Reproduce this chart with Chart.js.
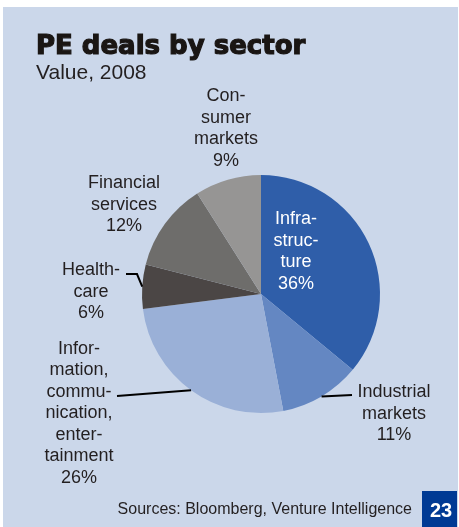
<!DOCTYPE html>
<html lang="en">
<head>
    <meta charset="UTF-8">
    <title>PE deals by sector</title>
    <script src="https://cdn.jsdelivr.net/npm/chart.js"></script>
    <style>
        html, body { margin: 0; padding: 0; background: #ffffff; }
        .panel {
            position: absolute; left: 3px; top: 7px; width: 455px; height: 520px;
            background: #cbd7ea;
        }
        #dealsChart { position: absolute; left: 0; top: 0; }
    </style>
</head>
<body>
    <div class="panel"></div>
    <canvas id="dealsChart" width="459" height="527"></canvas>

    <script>
        // Sector shares of PE deal value, 2008 (%)
        const sectors = ['Infrastructure', 'Industrial markets', 'Information, communication, entertainment',
                         'Healthcare', 'Financial services', 'Consumer markets'];
        const shares = [36, 11, 26, 6, 12, 9];
        // hyphenated label lines as printed
        const labelLines = [
            ['Infra-', 'struc-', 'ture'],
            ['Industrial', 'markets'],
            ['Infor-', 'mation,', 'commu-', 'nication,', 'enter-', 'tainment'],
            ['Health-', 'care'],
            ['Financial', 'services'],
            ['Con-', 'sumer', 'markets']
        ];
        const sliceColors = ['#2f5ea9', '#6487c2', '#9ab0d7', '#4b4645', '#6e6d6b', '#969594'];

        const TEXT = '#231f20';
        const LABEL_FONT = '18px "Liberation Sans", Arial, sans-serif';
        const LINE_H = 21.5;

        // where each label block sits, plus the leader line path from the slice edge
        const labelPlacement = [
            { x: 296, y: 224, color: '#ffffff' },
            { x: 394, y: 397, leader: [[352, 395]] },
            { x: 79, y: 353.5, leader: [[117, 396]] },
            { x: 91, y: 275, leader: [[137, 274], [126, 274]] },
            { x: 124, y: 188 },
            { x: 226, y: 101 }
        ];

        const sliceLabels = {
            id: 'sliceLabels',
            afterDatasetsDraw(chart) {
                const ctx = chart.ctx;
                const arcs = chart.getDatasetMeta(0).data;
                ctx.save();
                arcs.forEach((arc, i) => {
                    const p = labelPlacement[i];
                    if (p.leader) {
                        const mid = (arc.startAngle + arc.endAngle) / 2;
                        ctx.beginPath();
                        ctx.moveTo(arc.x + Math.cos(mid) * arc.outerRadius, arc.y + Math.sin(mid) * arc.outerRadius);
                        p.leader.forEach(pt => ctx.lineTo(pt[0], pt[1]));
                        ctx.strokeStyle = '#000000';
                        ctx.lineWidth = 2;
                        ctx.stroke();
                    }
                    const lines = labelLines[i].concat([shares[i] + '%']);
                    ctx.font = LABEL_FONT;
                    ctx.fillStyle = p.color || TEXT;
                    ctx.textAlign = 'center';
                    ctx.textBaseline = 'alphabetic';
                    lines.forEach((t, k) => ctx.fillText(t, p.x, p.y + k * LINE_H));
                });
                ctx.restore();
            }
        };

        // heading, subtitle, source note and page badge
        const frameText = {
            id: 'frameText',
            afterDraw(chart) {
                const ctx = chart.ctx;
                ctx.save();
                ctx.textBaseline = 'alphabetic';
                ctx.textAlign = 'left';
                ctx.fillStyle = '#1a1614';
                ctx.strokeStyle = '#1a1614';
                ctx.lineWidth = 1.2;
                ctx.font = 'bold 26px "DejaVu Sans", sans-serif';
                ctx.fillText('PE deals by sector', 36, 54);
                ctx.strokeText('PE deals by sector', 36, 54);

                ctx.fillStyle = TEXT;
                ctx.font = '21px "Liberation Sans", Arial, sans-serif';
                ctx.fillText('Value, 2008', 36, 79);

                ctx.font = '16px "Liberation Sans", Arial, sans-serif';
                ctx.textAlign = 'right';
                ctx.fillText('Sources: Bloomberg, Venture Intelligence', 412, 514);

                ctx.fillStyle = '#003a94';
                ctx.fillRect(422, 491, 35, 36);
                ctx.fillStyle = '#ffffff';
                ctx.textAlign = 'center';
                ctx.font = 'bold 20px "Liberation Sans", Arial, sans-serif';
                ctx.fillText('23', 441, 517);
                ctx.restore();
            }
        };

        const ctx = document.getElementById('dealsChart').getContext('2d');
        const dealsChart = new Chart(ctx, {
            type: 'pie',
            data: {
                labels: sectors,
                datasets: [{
                    data: shares,
                    backgroundColor: sliceColors,
                    borderWidth: 0
                }]
            },
            options: {
                responsive: false,
                animation: false,
                layout: {
                    padding: { left: 142, right: 79, top: 175, bottom: 114 }
                },
                plugins: {
                    legend: { display: false },
                    tooltip: { enabled: false }
                }
            },
            plugins: [sliceLabels, frameText]
        });
    </script>
</body>
</html>
